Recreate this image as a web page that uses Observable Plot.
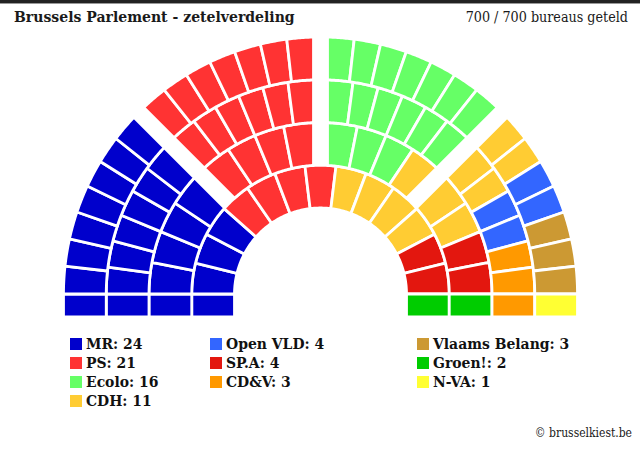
<!DOCTYPE html>
<html><head><meta charset="utf-8">
<script src="https://cdn.jsdelivr.net/npm/d3@7"></script>
<script src="https://cdn.jsdelivr.net/npm/@observablehq/plot@0.6"></script>
<style>
html,body{margin:0;padding:0;background:#fff;}
#wrap{position:relative;width:640px;height:449px;overflow:hidden;background:#fff;}
#chart{position:absolute;left:0;top:0;}
.rule1{position:absolute;left:0;top:0;width:640px;height:3px;background:#222;}
.rule2{position:absolute;left:0;top:3px;width:640px;height:1px;background:#999;}
.t{position:absolute;font-family:"DejaVu Serif Condensed","DejaVu Serif",serif;font-stretch:condensed;color:#1a1a1a;white-space:nowrap;line-height:1;}
.title{left:14px;top:9px;font-size:15.6px;font-weight:bold;}
.sub{right:12px;top:10px;font-size:14.2px;}
.credit{right:8px;top:427px;font-size:12px;}
.lg{position:absolute;display:flex;align-items:center;font-family:"DejaVu Serif Condensed","DejaVu Serif",serif;font-stretch:condensed;font-weight:bold;font-size:15.5px;color:#111;white-space:nowrap;line-height:1;}
.sw{width:12px;height:12px;margin-right:4px;flex:none;}
</style></head>
<body><div id="wrap">
<div class="rule1"></div><div class="rule2"></div>
<div id="chart"></div>
<div class="t title">Brussels Parlement - zetelverdeling</div>
<div class="t sub">700 / 700 bureaus geteld</div>
<div class="t credit">© brusselkiest.be</div>
</div>
<script>
// ---- data ----
const parties = ["MR","PS","Ecolo","CDH","Open VLD","SP.A","CD&V","Vlaams Belang","Groen!","N-VA"];
const seats   = [24, 21, 16, 11, 4, 4, 3, 3, 2, 1];
const colors  = ["#0000cc","#ff3333","#66ff66","#ffcc33","#3366ff","#e3170f","#ff9900","#cc9933","#00cc00","#ffff33"];
// seat runs per ring (inner -> outer), read left to right
const ring1Runs = [["MR",4],["PS",4],["CDH",4],["SP.A",2],["Groen!",1]];
const ring2Runs = [["MR",5],["PS",4],["Ecolo",3],["CDH",3],["SP.A",2],["Groen!",1]];
const ring3Runs = [["MR",7],["PS",6],["Ecolo",6],["CDH",2],["Open VLD",2],["CD&V",3]];
const ring4Runs = [["MR",8],["PS",7],["Ecolo",7],["CDH",2],["Open VLD",2],["Vlaams Belang",3],["N-VA",1]];
const legendColumns = [4, 3, 3];

// ---- layout ----
const rings = [ring1Runs, ring2Runs, ring3Runs, ring4Runs];
const R = [86, 128.75, 171.5, 214.25, 257];
const rectH = 23, gap = 14, K = 16;
const pts = [];
let id = 0;
function pushRect(party, xa, xb){
  const sid = id++;
  for (const x of [xa, xb]) pts.push({id: sid, party, xi: x, yi: 0, xo: x, yo: -rectH});
}
rings.forEach((runs, ri) => {
  const list = runs.flatMap(([p, n]) => Array(n).fill(p));
  const rIn = R[ri], rOut = R[ri + 1];
  const nSect = ri === 0 ? 1 : 4;
  pushRect(list[0], -rOut, -rIn);
  const inner = list.slice(1, -1);
  const per = inner.length / nSect;
  inner.forEach((p, k) => {
    const s = Math.floor(k / per), j = k % per;
    const a0 = Math.PI * (1 - s / nSect), a1 = Math.PI * (1 - (s + 1) / nSect);
    const bound = r => { const d = Math.asin(gap / 2 / r); return [s === 0 ? a0 : a0 - d, s === nSect - 1 ? a1 : a1 + d]; };
    const [i0, i1] = bound(rIn), [o0, o1] = bound(rOut);
    const sid = id++;
    for (let q = 0; q <= K; q++) {
      const f = (j + q / K) / per;
      const ai = i0 + (i1 - i0) * f, ao = o0 + (o1 - o0) * f;
      pts.push({id: sid, party: p, xi: rIn * Math.cos(ai), yi: rIn * Math.sin(ai), xo: rOut * Math.cos(ao), yo: rOut * Math.sin(ao)});
    }
  });
  pushRect(list[list.length - 1], rIn, rOut);
});

const chart = Plot.plot({
  width: 640, height: 449, margin: 0,
  x: {domain: [-320.5, 319.5], axis: null},
  y: {domain: [-155, 294], axis: null},
  color: {domain: parties, range: colors},
  marks: [
    Plot.area(pts, {x1: "xi", y1: "yi", x2: "xo", y2: "yo", z: "id", fill: "party", stroke: "white", strokeWidth: 2.8, curve: "linear"})
  ]
});
document.getElementById("chart").appendChild(chart);

// legend
const wrap = document.getElementById("wrap");
const colX = [70, 210, 417];
let idx = 0;
legendColumns.forEach((n, c) => {
  for (let r = 0; r < n; r++, idx++) {
    const d = document.createElement("div");
    d.className = "lg";
    d.style.left = colX[c] + "px";
    d.style.top = (336 + r * 19) + "px";
    d.innerHTML = `<span class="sw" style="background:${colors[idx]}"></span><span></span>`;
    d.lastChild.textContent = `${parties[idx]}: ${seats[idx]}`;
    wrap.appendChild(d);
  }
});
</script>
</body></html>
